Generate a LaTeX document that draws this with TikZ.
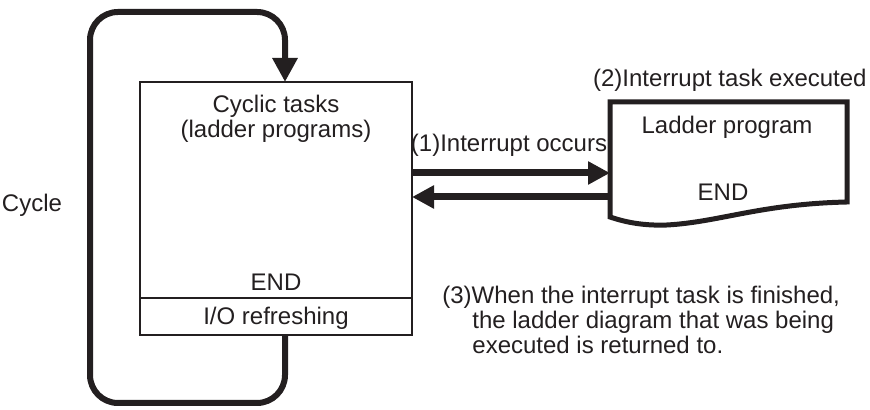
\documentclass[tikz,border=0pt]{standalone}
\usepackage{fontspec}
\setmainfont{Liberation Sans}
\usetikzlibrary{arrows.meta}
\definecolor{inchiostro}{HTML}{231F20}
\begin{document}
\begin{tikzpicture}[
			x=0.5pt, y=0.5pt,
			testo/.style={font=\fontsize{12}{14}\selectfont, text=inchiostro, inner sep=0pt},
			riquadro/.style={line width=0.6pt, draw=inchiostro},
			ciclo/.style={line width=3pt, rounded corners=14pt, draw=inchiostro, -{Triangle[width=12pt,length=12pt]}},
			freccia/.style={line width=3.5pt, draw=inchiostro, -{Triangle[width=11pt,length=11pt]}},
			foglio/.style={line width=2.5pt, line join=miter, draw=inchiostro}]
			
			\useasboundingbox (0,0) rectangle (870,410);
			
			\def\xL{140}  %% bordo sx riquadro
			\def\xR{412}  %% bordo dx riquadro
			\def\yT{328}  %% bordo sup
			\def\yB{75}   %% bordo inf
			\def\yM{112}  %% separazione END / refresh
			\def\xC{285}  %% ramo verticale del ciclo
			\pgfmathsetmacro{\xM}{(\xL+\xR)/2}
			
			%% --- ciclo ---
			\coordinate (ciclo-in) at (\xC,\yB);
			\coordinate (ciclo-out) at (\xC,\yT);
			\draw[ciclo] (ciclo-in) -- (\xC,7) -- (90,7) -- (90,398) -- (\xC,398) -- (ciclo-out);
			\node[testo] (cycle) at (32,205) {Cycle};
			
			%% --- riquadro dei task ciclici ---
			\draw[riquadro] (\xL,\yB) rectangle (\xR,\yT);
			\draw[riquadro] (\xL,\yM) -- (\xR,\yM);
			\node[testo] (cyclic) at (\xM,304) {Cyclic tasks};
			\node[testo] (ladder) at (\xM,279) {(ladder programs)};
			\node[testo] (end-a) at (\xM,128) {END};
			\node[testo] (refresh) at (\xM,92) {I/O refreshing};
			
			%% --- foglio del task di interrupt ---
			\draw[foglio] (610,193) -- (610,308) -- (847,308) -- (847,208)
				.. controls (760,206) and (720,188) .. (667,185)
				.. controls (640,184) and (622,189) .. cycle;
			\node[testo, anchor=east] (eseguito) at (867,330) {(2)Interrupt task executed};
			\node[testo] (prog) at (727,283) {Ladder program};
			\node[testo] (end-b) at (723,218) {END};
			
			%% --- frecce andata / ritorno ---
			\coordinate (int-a) at (\xR,237);
			\coordinate (doc-a) at (610,237);
			\coordinate (int-b) at (\xR,213);
			\coordinate (doc-b) at (610,213);
			\draw[freccia] (int-a) -- (doc-a);
			\draw[freccia] (doc-b) -- (int-b);
			\node[testo] (occorre) at (509,265) {(1)Interrupt occurs};
			
			%% --- nota (3) ---
			\node[testo, anchor=base west] (nota-a) at (442,106) {(3)When the interrupt task is finished,};
			\node[testo, anchor=base west] (nota-b) at (472,81) {the ladder diagram that was being};
			\node[testo, anchor=base west] (nota-c) at (472,56) {executed is returned to.};
			
		\end{tikzpicture}
\end{document}
